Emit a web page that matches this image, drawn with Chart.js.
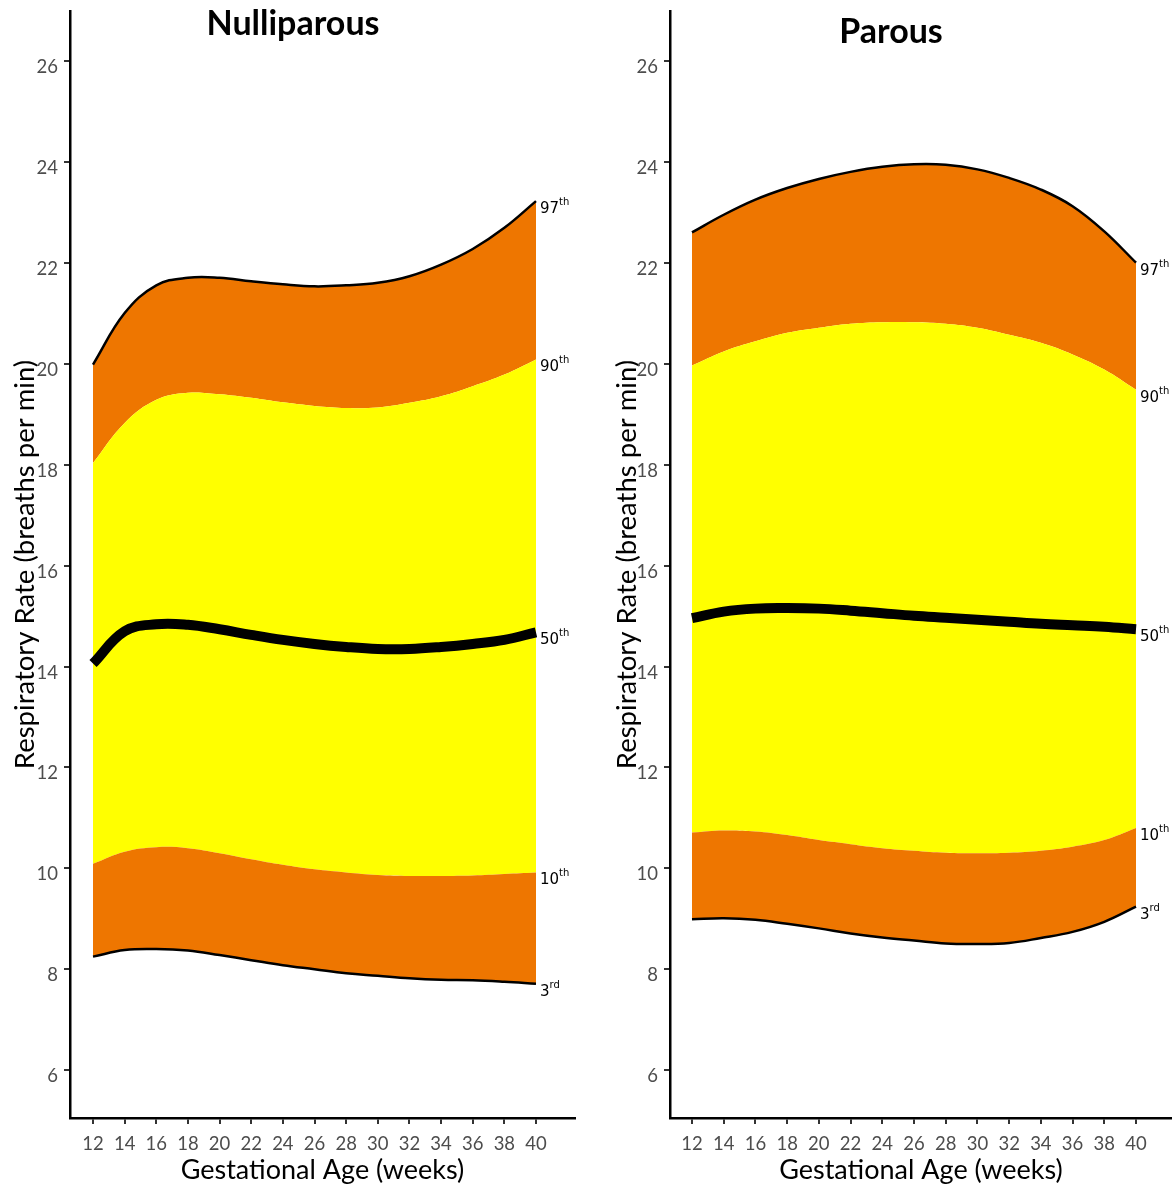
<!DOCTYPE html>
<html>
<head>
<meta charset="utf-8">
<script src="https://cdn.jsdelivr.net/npm/chart.js@4"></script>
<style>
  html, body { margin: 0; padding: 0; background: #fff; }
  #wrap { position: relative; width: 1172px; height: 1186px; }
  #wrap canvas { position: absolute; top: 0; }
</style>
</head>
<body>
<div id="wrap">
  <canvas id="nulliparousChart" width="600" height="1186" style="left:0"></canvas>
  <canvas id="parousChart" width="572" height="1186" style="left:600px"></canvas>
</div>
<script>
// Gestational age (weeks) where the centile curves were read
const weeks = [12, 14, 16, 18, 20, 22, 24, 26, 28, 30, 32, 34, 36, 38, 40];
const xTickValues = [12, 14, 16, 18, 20, 22, 24, 26, 28, 30, 32, 34, 36, 38, 40];
const yTickValues = [6, 8, 10, 12, 14, 16, 18, 20, 22, 24, 26];
const centileLabels = ['3rd', '10th', '50th', '90th', '97th'];

// Nulliparous centiles (breaths per min)
const nulli3rd  = [8.25, 8.38, 8.40, 8.37, 8.28, 8.18, 8.08, 8.00, 7.92, 7.87, 7.82, 7.79, 7.78, 7.75, 7.71];
const nulli10th = [10.09, 10.33, 10.42, 10.40, 10.30, 10.18, 10.07, 9.98, 9.92, 9.87, 9.85, 9.85, 9.86, 9.89, 9.92];
const nulli50th = [14.06, 14.70, 14.84, 14.83, 14.74, 14.63, 14.53, 14.45, 14.39, 14.35, 14.35, 14.39, 14.45, 14.53, 14.68];
const nulli90th = [18.04, 18.83, 19.29, 19.43, 19.40, 19.33, 19.24, 19.17, 19.13, 19.14, 19.23, 19.36, 19.56, 19.79, 20.09];
const nulli97th = [19.99, 21.01, 21.56, 21.71, 21.71, 21.64, 21.58, 21.54, 21.56, 21.61, 21.74, 21.97, 22.28, 22.70, 23.23];

// Parous centiles (breaths per min)
const parous3rd  = [8.99, 9.01, 8.98, 8.90, 8.81, 8.71, 8.63, 8.57, 8.51, 8.50, 8.52, 8.62, 8.74, 8.94, 9.24];
const parous10th = [10.71, 10.75, 10.73, 10.66, 10.56, 10.48, 10.40, 10.35, 10.31, 10.30, 10.31, 10.35, 10.43, 10.56, 10.80];
const parous50th = [14.96, 15.09, 15.15, 15.16, 15.15, 15.11, 15.06, 15.01, 14.97, 14.93, 14.89, 14.85, 14.82, 14.79, 14.74];
const parous90th = [19.97, 20.25, 20.45, 20.62, 20.72, 20.80, 20.83, 20.83, 20.80, 20.72, 20.58, 20.42, 20.19, 19.89, 19.49];
const parous97th = [22.61, 22.96, 23.26, 23.49, 23.67, 23.81, 23.91, 23.96, 23.95, 23.86, 23.69, 23.46, 23.13, 22.63, 22.01];

const ORANGE = '#EE7600';
const YELLOW = '#FFFF00';
const FONT = 'Lato';

function toPoints(values) {
  return weeks.map((w, i) => ({ x: w, y: values[i] }));
}

// Panel heading, drawn over the top of the plot like the original
const panelTitle = {
  id: 'panelTitle',
  afterDraw(chart, args, opts) {
    const ctx = chart.ctx;
    ctx.save();
    ctx.font = 'bold 34px ' + FONT;
    ctx.fillStyle = '#000';
    ctx.textAlign = 'center';
    ctx.textBaseline = 'middle';
    ctx.fillText(opts.text, opts.x, opts.y);
    ctx.restore();
  }
};

// "97th", "3rd" ... at the right end of every curve
const centileTags = {
  id: 'centileTags',
  afterDatasetsDraw(chart) {
    const ctx = chart.ctx;
    ctx.save();
    ctx.fillStyle = '#000';
    ctx.textAlign = 'left';
    ctx.textBaseline = 'alphabetic';
    chart.data.datasets.forEach((ds, i) => {
      const meta = chart.getDatasetMeta(i);
      const last = meta.data[meta.data.length - 1];
      const num = ds.label.replace(/\D/g, '');
      const suffix = ds.label.replace(/\d/g, '');
      const x = last.x + 4;
      const y = last.y + 12;
      ctx.font = '15px "DejaVu Sans"';
      ctx.fillText(num, x, y);
      const w = ctx.measureText(num).width;
      ctx.font = '10px "DejaVu Sans"';
      ctx.fillText(suffix, x + w, y - 8);
    });
    ctx.restore();
  }
};

function makeChart(canvasId, panel) {
  const s = panel.series;
  const line = { pointRadius: 0, pointHitRadius: 0, tension: 0.4 };

  return new Chart(document.getElementById(canvasId), {
    type: 'line',
    data: {
      datasets: [
        Object.assign({ label: centileLabels[0], data: toPoints(s[0]), borderColor: '#000', borderWidth: 2.5, fill: false }, line),
        Object.assign({ label: centileLabels[1], data: toPoints(s[1]), borderColor: 'rgba(0,0,0,0)', borderWidth: 1, fill: 0, backgroundColor: ORANGE }, line),
        Object.assign({ label: centileLabels[2], data: toPoints(s[2]), borderColor: '#000', borderWidth: 10, borderCapStyle: 'butt', fill: false }, line),
        Object.assign({ label: centileLabels[3], data: toPoints(s[3]), borderColor: 'rgba(0,0,0,0)', borderWidth: 1, fill: 1, backgroundColor: YELLOW }, line),
        Object.assign({ label: centileLabels[4], data: toPoints(s[4]), borderColor: '#000', borderWidth: 2.5, fill: 3, backgroundColor: ORANGE }, line)
      ]
    },
    options: {
      responsive: false,
      animation: false,
      layout: { padding: { top: 11, right: panel.padRight, bottom: 0, left: 0 } },
      plugins: {
        legend: { display: false },
        tooltip: { enabled: false },
        filler: { drawTime: 'beforeDatasetsDraw' },
        panelTitle: { text: panel.title, x: panel.titleX, y: panel.titleY }
      },
      scales: {
        x: {
          type: 'linear',
          min: panel.xMin,
          max: panel.xMax,
          afterBuildTicks: sc => { sc.ticks = xTickValues.map(v => ({ value: v })); },
          afterFit: sc => { sc.height = 68; sc.paddingLeft = 0; sc.paddingRight = 0; },
          border: { display: true, color: '#000', width: 2.5 },
          grid: { drawOnChartArea: false, drawTicks: true, tickLength: 6, color: '#333', lineWidth: 2 },
          ticks: { color: '#4D4D4D', font: { family: FONT, size: 18.5 }, padding: 9, maxRotation: 0, autoSkip: false },
          title: {
            display: true, text: 'Gestational Age (weeks)', color: '#000',
            font: { family: FONT, size: 27 }, padding: { top: 0, bottom: 0 }
          }
        },
        y: {
          min: 5.05,
          max: 27,
          afterBuildTicks: sc => { sc.ticks = yTickValues.map(v => ({ value: v })); },
          afterFit: sc => { sc.width = 70; sc.paddingTop = 0; sc.paddingBottom = 0; },
          border: { display: true, color: '#000', width: 2.5 },
          grid: { drawOnChartArea: false, drawTicks: true, tickLength: 6, color: '#333', lineWidth: 2 },
          ticks: { color: '#4D4D4D', font: { family: FONT, size: 18.5 }, padding: 6, labelOffset: 6 },
          title: {
            display: true, text: 'Respiratory Rate (breaths per min)', color: '#000',
            font: { family: FONT, size: 27.5 }, padding: { top: panel.yTitlePad, bottom: 0 }
          }
        }
      }
    },
    plugins: [panelTitle, centileTags]
  });
}

makeChart('nulliparousChart', {
  title: 'Nulliparous', titleX: 293, titleY: 24,
  xMin: 10.546, xMax: 42.465, padRight: 25, yTitlePad: 9,
  series: [nulli3rd, nulli10th, nulli50th, nulli90th, nulli97th]
});

makeChart('parousChart', {
  title: 'Parous', titleX: 291, titleY: 32,
  xMin: 10.613, xMax: 42.27, padRight: 0, yTitlePad: 11,
  series: [parous3rd, parous10th, parous50th, parous90th, parous97th]
});
</script>
</body>
</html>
